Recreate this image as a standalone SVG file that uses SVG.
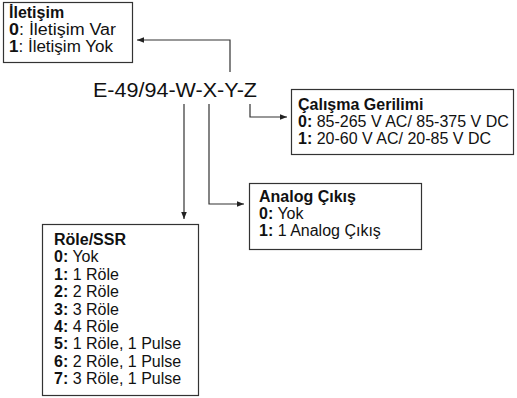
<svg xmlns="http://www.w3.org/2000/svg" width="517" height="398" viewBox="0 0 517 398">
<defs>
<marker id="ah" viewBox="0 0 10 10" refX="10" refY="5" markerWidth="7" markerHeight="7" markerUnits="userSpaceOnUse" orient="auto">
<path d="M0,1 L10,5 L0,9 Z" fill="#222"/>
</marker>
</defs>
<style>
text{font-family:"Liberation Sans",Arial,sans-serif;font-size:16px;fill:#111}
.b{font-weight:bold}
.box{fill:#fff;stroke:#333;stroke-width:1.2}
.ln{fill:none;stroke:#333;stroke-width:1.2}
.main{font-size:20px}
</style>
<rect width="517" height="398" fill="#fff"/>
<g id="connectors">
<path class="ln" d="M230,72 V40 H137" marker-end="url(#ah)"/>
<path class="ln" d="M250,104 V117 H287" marker-end="url(#ah)"/>
<path class="ln" d="M209,104 V204 H244" marker-end="url(#ah)"/>
<path class="ln" d="M184,104 V219" marker-end="url(#ah)"/>
</g>
<g id="code">
<text class="main" x="93" y="97" textLength="164" lengthAdjust="spacingAndGlyphs">E-49/94-W-X-Y-Z</text>
</g>
<g id="iletisim">
<rect class="box" x="3.5" y="2.5" width="129" height="60"/>
<text class="b" x="9" y="18">İletişim</text>
<text x="9" y="35" textLength="107" lengthAdjust="spacingAndGlyphs"><tspan class="b">0</tspan>: İletişim Var</text>
<text x="9" y="52" textLength="104" lengthAdjust="spacingAndGlyphs"><tspan class="b">1</tspan>: İletişim Yok</text>
</g>
<g id="calisma">
<rect class="box" x="291.5" y="89.5" width="222" height="65"/>
<text class="b" x="298" y="110">Çalışma Gerilimi</text>
<text x="298" y="127"><tspan class="b">0:</tspan> 85-265 V AC/ 85-375 V DC</text>
<text x="298" y="144"><tspan class="b">1:</tspan> 20-60 V AC/ 20-85 V DC</text>
</g>
<g id="analog">
<rect class="box" x="249.5" y="183.5" width="172" height="66"/>
<text class="b" x="259" y="202">Analog Çıkış</text>
<text x="259" y="219"><tspan class="b">0:</tspan> Yok</text>
<text x="259" y="236"><tspan class="b">1:</tspan> 1 Analog Çıkış</text>
</g>
<g id="role">
<rect class="box" x="42.5" y="224.5" width="156" height="171"/>
<text class="b" x="54" y="245">Röle/SSR</text>
<text x="54" y="262.4"><tspan class="b">0:</tspan> Yok</text>
<text x="54" y="279.8"><tspan class="b">1:</tspan> 1 Röle</text>
<text x="54" y="297.2"><tspan class="b">2:</tspan> 2 Röle</text>
<text x="54" y="314.6"><tspan class="b">3:</tspan> 3 Röle</text>
<text x="54" y="332"><tspan class="b">4:</tspan> 4 Röle</text>
<text x="54" y="349.4"><tspan class="b">5:</tspan> 1 Röle, 1 Pulse</text>
<text x="54" y="366.8"><tspan class="b">6:</tspan> 2 Röle, 1 Pulse</text>
<text x="54" y="384.2"><tspan class="b">7:</tspan> 3 Röle, 1 Pulse</text>
</g>
</svg>
